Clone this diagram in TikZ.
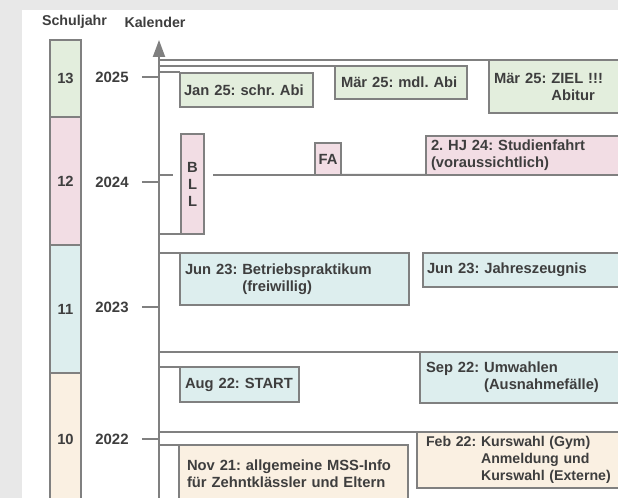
\documentclass[tikz,border=0pt]{standalone}
\usepackage{fontspec}
\setmainfont{Liberation Sans}
\usetikzlibrary{arrows.meta}
\frenchspacing
\definecolor{bg}{RGB}{232,232,232}
\definecolor{ln}{RGB}{128,128,128}
\definecolor{txt}{RGB}{62,62,62}
\definecolor{cg}{RGB}{227,238,221}
\definecolor{cp}{RGB}{242,221,228}
\definecolor{cb}{RGB}{221,238,238}
\definecolor{cc}{RGB}{250,240,226}
\begin{document}
\begin{tikzpicture}[x=1bp,y=-1bp,
  every node/.style={font=\fontsize{14.8}{17}\selectfont\bfseries\frenchspacing, text=txt},
  conn/.style={draw=ln, line width=2bp},
  evbox/.style={draw=ln, line width=2.2bp, anchor=north west, outer sep=0pt, align=left, inner ysep=0pt},
  cbox/.style={draw=ln, line width=2.2bp, anchor=north west, outer sep=0pt, align=center, inner sep=0pt},
  seg/.style={draw=ln, line width=2.2bp, anchor=north west, outer sep=0pt, inner sep=0pt, minimum width=31bp},
  yr/.style={inner sep=0pt, font=\fontsize{15}{17}\selectfont\bfseries},
  hd/.style={inner sep=0pt, font=\fontsize{14.3}{17}\selectfont\bfseries}]
\useasboundingbox (0,0) rectangle (618,498);
\fill[bg] (0,0) rectangle (618,498);
\fill[white] (22,10) rectangle (618,498);

% headers
\node[hd] (hs) at (74.5,22) {Schuljahr};
\node[hd] (hk) at (155,22) {Kalender};

% school year bar
\node[seg, fill=cg, minimum height=77bp] (s13) at (50,40) {13};
\node[seg, fill=cp, minimum height=128bp] (s12) at (50,117) {12};
\node[seg, fill=cb, minimum height=128bp] (s11) at (50,245) {11};
\node[seg, fill=cc, minimum height=132bp] (s10) at (50,373) {};
\node at (65.5,439) (n10) {10};

% axis
\coordinate (axb) at (159,502);
\coordinate (axt) at (159,40);
\draw[draw=ln, line width=2bp, -{Triangle[length=17bp,width=12bp]}] (axb) -- (axt);

% years
\node[yr] (y25) at (112,77) {2025};
\node[yr] (y24) at (112,182) {2024};
\node[yr] (y23) at (112,307) {2023};
\node[yr] (y22) at (112,439) {2022};
\foreach \y in {y25,y24,y23,y22}
  \draw[conn] ([xshift=13bp]\y.east) -- (\y -| axb);

% event boxes
\node[evbox, fill=cg, text width=125bp, inner xsep=4bp, minimum height=34bp] (jan) at (180,73) {Jan 25: schr. Abi};
\node[evbox, fill=cg, text width=120bp, inner xsep=6bp, minimum height=33bp] (mdl) at (335,66) {Mär 25: mdl. Abi};
\node[evbox, fill=cg, text width=150bp, inner xsep=5bp, minimum height=53bp] (ziel) at (489,60) {Mär 25: ZIEL !!!\\\phantom{Mär 25: }Abitur};

\node[cbox, fill=cp, minimum width=23bp, minimum height=100bp] (bll) at (181,134) {B\\L\\L};
\node[cbox, fill=cp, minimum width=26bp, minimum height=32bp] (fa) at (315,143) {FA};
\node[evbox, fill=cp, text width=200bp, inner xsep=5bp, minimum height=39bp] (stud) at (426,136) {2. HJ 24: Studienfahrt\\(voraussichtlich)};

\node[evbox, fill=cb, text width=219bp, inner xsep=5bp, minimum height=52bp] (betr) at (180,253) {Jun 23: Betriebspraktikum\\\phantom{Jun 23: }(freiwillig)};
\node[evbox, fill=cb, text width=200bp, inner xsep=4bp, minimum height=34bp] (jahr) at (423,253) {Jun 23: Jahreszeugnis};

\node[evbox, fill=cb, text width=200bp, inner xsep=6bp, minimum height=51bp] (sep) at (420,352) {Sep 22: Umwahlen\\\phantom{Sep 22: }(Ausnahmefälle)};
\node[evbox, fill=cb, text width=109bp, inner xsep=5bp, minimum height=35bp] (aug) at (180,367) {Aug 22: START};

\node[evbox, fill=cc, text width=200bp, inner xsep=9bp, minimum height=56bp, font=\fontsize{14.2}{17}\selectfont\bfseries\frenchspacing] (feb) at (417,432) {Feb 22: Kurswahl (Gym)\\\phantom{Feb 22: }Anmeldung und\\\phantom{Feb 22: }Kurswahl (Externe)};
\node[evbox, fill=cc, text width=213bp, inner xsep=8bp, minimum height=57bp] (nov) at (179,445) {Nov 21: allgemeine MSS-Info\\für Zehntklässler und Eltern};

% connectors from axis
\draw[conn] (ziel.north west -| axb) -- (ziel.north west);
\draw[conn] (mdl.north west -| axb) -- (mdl.north west);
\draw[conn] ([yshift=1bp]jan.north west -| axb) -- ([yshift=1bp]jan.north west);
\draw[conn] (bll.south west -| axb) -- (bll.south west);
\draw[conn] (fa.south west -| axb) -- ([xshift=-8bp]bll.west |- fa.south west);
\draw[conn] ([xshift=9bp]bll.east |- fa.south west) -- (fa.south west);
\draw[conn] (fa.south east) -- (stud.south west);
\draw[conn] (betr.north west -| axb) -- (betr.north west);
\draw[conn] (sep.north west -| axb) -- (sep.north west);
\draw[conn] (aug.north west -| axb) -- (aug.north west);
\draw[conn] (feb.north west -| axb) -- (feb.north west);
\draw[conn] (nov.north west -| axb) -- (nov.north west);
\end{tikzpicture}
\end{document}
